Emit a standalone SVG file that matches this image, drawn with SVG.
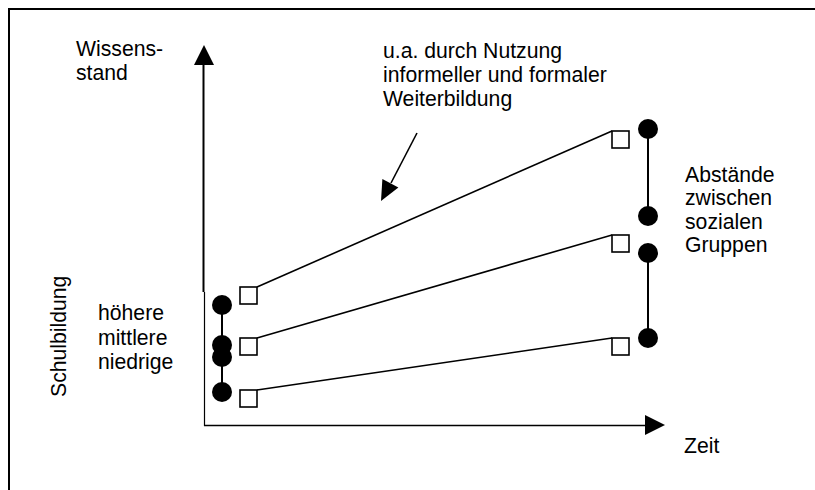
<svg xmlns="http://www.w3.org/2000/svg" width="815" height="490" viewBox="0 0 815 490">
<style>
text{font-family:"Liberation Sans",Arial,sans-serif;font-size:21.2px;fill:#000}
.ln{stroke:#000;stroke-width:1.6;fill:none}
.sq{fill:#fff;stroke:#000;stroke-width:1.6}
.dot{fill:#000}
</style>
<rect width="815" height="490" fill="#fff"/>
<rect id="frame" x="9" y="9" width="820" height="500" fill="none" stroke="#000" stroke-width="2"/>
<g id="axes">
<line x1="203.5" y1="62" x2="203.5" y2="292" stroke="#000" stroke-width="2"/>
<line x1="204.5" y1="292" x2="204.5" y2="426" stroke="#000" stroke-width="1.2"/>
<polygon points="204,45 194,65 214,65" fill="#000"/>
<line x1="204" y1="425.5" x2="647" y2="425.5" stroke="#000" stroke-width="1.4"/>
<polygon points="665,425 645,415 645,435" fill="#000"/>
</g>
<g id="connectors">
<line class="ln" x1="257" y1="287" x2="612" y2="131"/>
<line class="ln" x1="257" y1="338" x2="612" y2="235"/>
<line class="ln" x1="257" y1="390" x2="612" y2="338"/>
<line x1="222" y1="305" x2="222" y2="392" stroke="#000" stroke-width="2"/>
<line x1="648" y1="129" x2="648" y2="216" stroke="#000" stroke-width="2"/>
<line x1="648" y1="253" x2="648" y2="338" stroke="#000" stroke-width="2"/>
<line class="ln" x1="417" y1="133" x2="391" y2="183"/>
<polygon points="381,201 398.4,187.5 382.4,179.1" fill="#000"/>
</g>
<g id="start-points">
<rect class="sq" x="240" y="287" width="17" height="17"/>
<rect class="sq" x="240" y="338" width="17" height="17"/>
<rect class="sq" x="240" y="390" width="17" height="17"/>
<circle class="dot" cx="222" cy="305" r="10"/>
<circle class="dot" cx="222" cy="345" r="10"/>
<circle class="dot" cx="222" cy="357" r="10"/>
<circle class="dot" cx="222" cy="392" r="10"/>
</g>
<g id="end-points">
<rect class="sq" x="612" y="131" width="17" height="17"/>
<rect class="sq" x="612" y="235" width="17" height="17"/>
<rect class="sq" x="612" y="338" width="17" height="17"/>
<circle class="dot" cx="648" cy="129" r="10"/>
<circle class="dot" cx="648" cy="216" r="10"/>
<circle class="dot" cx="648" cy="253" r="10"/>
<circle class="dot" cx="648" cy="338" r="10"/>
</g>
<g id="labels">
<text x="76" y="56">Wissens-</text>
<text x="76" y="80">stand</text>
<text x="383" y="57.5">u.a. durch Nutzung</text>
<text x="383" y="81.5">informeller und formaler</text>
<text x="383" y="106">Weiterbildung</text>
<text x="685" y="181.5">Abstände</text>
<text x="685" y="205">zwischen</text>
<text x="685" y="228.5">sozialen</text>
<text x="685" y="252">Gruppen</text>
<text x="98" y="320">höhere</text>
<text x="98" y="344.5">mittlere</text>
<text x="98" y="368.5">niedrige</text>
<text transform="translate(65.5,397) rotate(-90)">Schulbildung</text>
<text x="684" y="452.5">Zeit</text>
</g>
</svg>
